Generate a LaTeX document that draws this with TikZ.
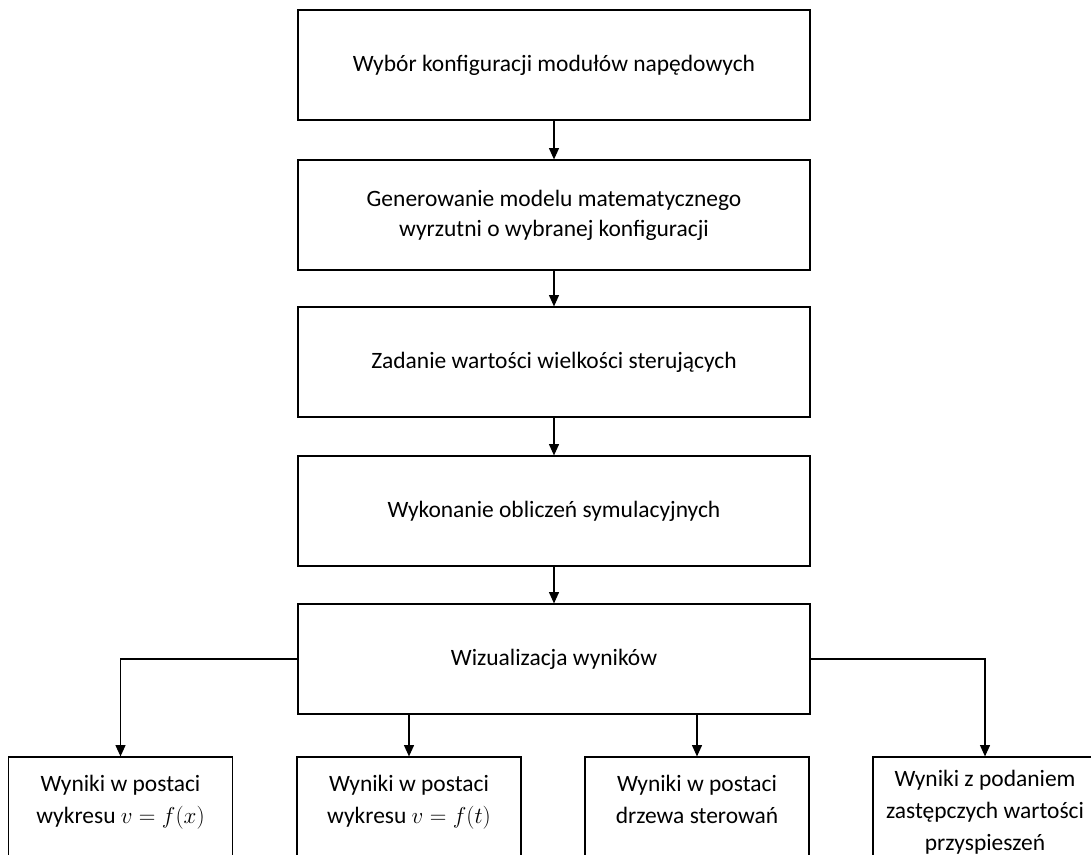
\documentclass[tikz,border=0pt]{standalone}
\usepackage{fontspec}
\setmainfont{Carlito}
\usetikzlibrary{arrows.meta,positioning}

\begin{document}
\begin{tikzpicture}[x=0.75pt, y=-0.75pt,
  stage/.style={rectangle, draw, line width=0.9pt, minimum width=384pt, minimum height=82.5pt, inner sep=0pt, align=center, font=\fontsize{17.6}{22.5}\selectfont},
  result/.style={rectangle, draw, line width=0.9pt, minimum width=168pt, minimum height=82.5pt, inner sep=0pt, align=center, font=\fontsize{17.6}{24}\selectfont},
  raised/.style={text depth=19pt},
  flow/.style={-{Triangle[width=7.5pt,length=8.5pt]}, line width=0.9pt}
]
  \useasboundingbox (0,0) rectangle (1091,854);
  \clip (0,0) rectangle (1091,854);
  % main chain
  \node[stage] (wybor) at (554,65) {Wybór konfiguracji modułów napędowych};
  \node[stage] (model) at (554,215) {Generowanie modelu matematycznego\\ wyrzutni o wybranej konfiguracji};
  \node[stage] (zadanie) at (554,362) {Zadanie wartości wielkości sterujących};
  \node[stage] (oblicz) at (554,511) {Wykonanie obliczeń symulacyjnych};
  \node[stage] (wizual) at (554,659) {Wizualizacja wyników};
  % results
  \node[result, raised] (wynx) at (120.5,812) {Wyniki w postaci\\ wykresu $v=f(x)$};
  \node[result, raised] (wynt) at (409,812) {Wyniki w postaci\\ wykresu $v=f(t)$};
  \node[result, raised] (drzewo) at (697,812) {Wyniki w postaci\\ drzewa sterowań};
  \node[result] (przysp) at (985,812) {Wyniki z podaniem\\ zastępczych wartości\\ przyspieszeń};
  % connectors
  \draw[flow] (wybor) -- (model);
  \draw[flow] (model) -- (zadanie);
  \draw[flow] (zadanie) -- (oblicz);
  \draw[flow] (oblicz) -- (wizual);
  \draw[flow] (wizual.west) -| (wynx);
  \draw[flow] (wizual.south -| wynt) -- (wynt);
  \draw[flow] (wizual.south -| drzewo) -- (drzewo);
  \draw[flow] (wizual.east) -| (przysp);
\end{tikzpicture}
\end{document}
